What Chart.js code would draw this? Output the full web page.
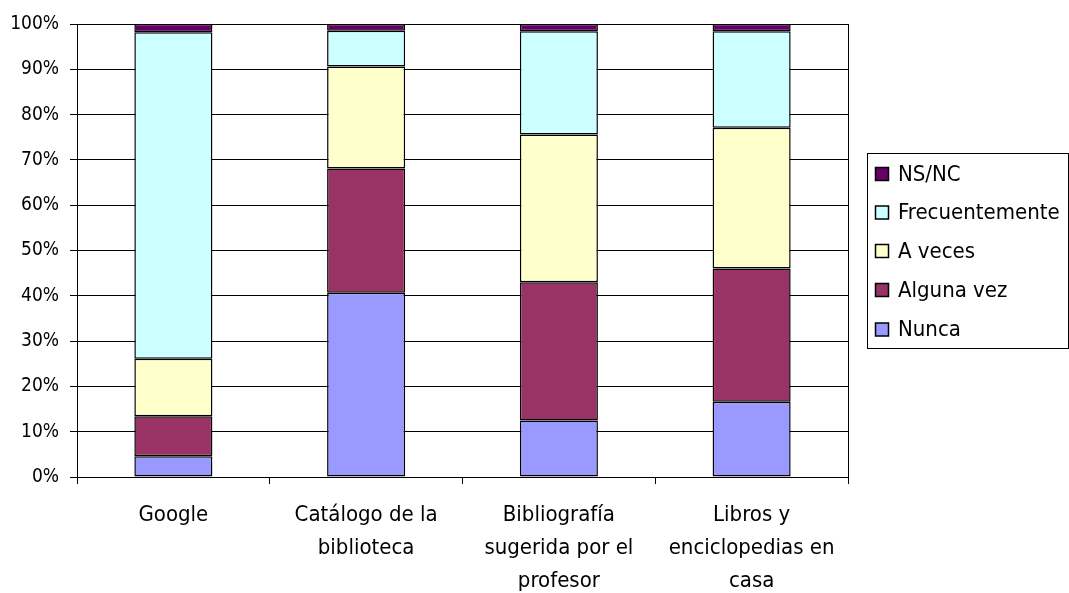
<!DOCTYPE html>
<html>
<head>
<meta charset="utf-8">
<script src="https://cdn.jsdelivr.net/npm/chart.js@4/dist/chart.umd.min.js"></script>
<style>
  html, body { margin: 0; padding: 0; background: #ffffff; }
  #wrap { width: 1069px; height: 593px; position: relative; }
</style>
</head>
<body>
<div id="wrap"><canvas id="c" width="1069" height="593"></canvas></div>
<script>
// Sources consulted, one stacked column each
const categories = [
  'Google',
  ['Catálogo de la', 'biblioteca'],
  ['Bibliografía', 'sugerida por el', 'profesor'],
  ['Libros y', 'enciclopedias en', 'casa']
];

// Share of answers (%) per frequency
const nunca          = [4.6, 40.7, 12.5, 16.6];
const algunaVez      = [8.8, 27.4, 30.5, 29.4];
const aVeces         = [12.7, 22.5, 32.6, 31.1];
const frecuentemente = [72.1, 7.9, 22.8, 21.3];
const nsnc           = [1.8, 1.5, 1.6, 1.6];

const seriesNames = ['Nunca', 'Alguna vez', 'A veces', 'Frecuentemente', 'NS/NC'];
const seriesColors = ['#9999FF', '#993366', '#FFFFCC', '#CCFFFF', '#660066'];
const yTicks = [0, 10, 20, 30, 40, 50, 60, 70, 80, 90, 100];

const FONT = "'DejaVu Sans Condensed', 'DejaVu Sans', sans-serif";

const seriesValues = [nunca, algunaVez, aVeces, frecuentemente, nsnc];
const datasets = seriesValues.map((vals, i) => ({
  label: seriesNames[i],
  data: vals,
  backgroundColor: seriesColors[i],
  borderColor: '#000000',
  borderWidth: 1.5,
  borderSkipped: false,
  categoryPercentage: 1.0,
  barPercentage: 0.405
}));

// Boxed legend on the right, listed top of the stack first
const boxedLegend = {
  id: 'boxedLegend',
  afterDraw(chart) {
    const ctx = chart.ctx;
    ctx.save();
    const left = 867.5, top = 153.5, right = 1068.5, bottom = 348.5;
    ctx.strokeStyle = '#000000';
    ctx.lineWidth = 1;
    ctx.strokeRect(left, top, right - left, bottom - top);
    const rowY = [174, 212.5, 251, 290, 329.5];
    const order = chart.data.datasets.map((d, i) => i).reverse();
    ctx.font = '22px ' + FONT;
    ctx.textBaseline = 'middle';
    ctx.textAlign = 'left';
    order.forEach((di, k) => {
      const ds = chart.data.datasets[di];
      const y = rowY[k];
      ctx.fillStyle = ds.backgroundColor;
      ctx.fillRect(875.5, y - 6.5, 13, 13);
      ctx.strokeStyle = '#000000';
      ctx.lineWidth = 1.5;
      ctx.strokeRect(875.5, y - 6.5, 13, 13);
      ctx.fillStyle = '#000000';
      ctx.fillText(ds.label, 898, y + 1);
    });
    ctx.restore();
  }
};

// Right-hand frame line of the plot area
const rightFrame = {
  id: 'rightFrame',
  beforeDatasetsDraw(chart) {
    const { ctx, chartArea } = chart;
    ctx.save();
    ctx.strokeStyle = '#000000';
    ctx.lineWidth = 1;
    const x = Math.round(chartArea.right) + 0.5;
    ctx.beginPath();
    ctx.moveTo(x, chartArea.top);
    ctx.lineTo(x, chartArea.bottom);
    ctx.stroke();
    ctx.restore();
  }
};

new Chart(document.getElementById('c'), {
  type: 'bar',
  data: { labels: categories, datasets },
  options: {
    responsive: false,
    animation: false,
    events: [],
    layout: { padding: { left: 0, top: 24, right: 221, bottom: 0 } },
    plugins: {
      legend: { display: false },
      tooltip: { enabled: false }
    },
    scales: {
      x: {
        stacked: true,
        grid: {
          display: true,
          drawOnChartArea: false,
          drawTicks: true,
          tickLength: 7,
          color: '#000000',
          offset: true
        },
        border: { display: true, color: '#000000', width: 1 },
        ticks: {
          color: '#000000',
          font: { family: FONT, size: 22, lineHeight: 1.5 },
          padding: 15,
          maxRotation: 0,
          autoSkip: false
        },
        afterFit(scale) { scale.height = 116; }
      },
      y: {
        stacked: true,
        min: 0,
        max: 100,
        afterBuildTicks(scale) { scale.ticks = yTicks.map(v => ({ value: v })); },
        grid: {
          color: '#000000',
          lineWidth: 1,
          drawTicks: true,
          tickLength: 7
        },
        border: { display: true, color: '#000000', width: 1 },
        ticks: {
          color: '#000000',
          font: { family: FONT, size: 19 },
          padding: 11,
          callback: v => v + '%'
        },
        afterFit(scale) { scale.width = 77; }
      }
    }
  },
  plugins: [boxedLegend, rightFrame]
});
</script>
</body>
</html>
